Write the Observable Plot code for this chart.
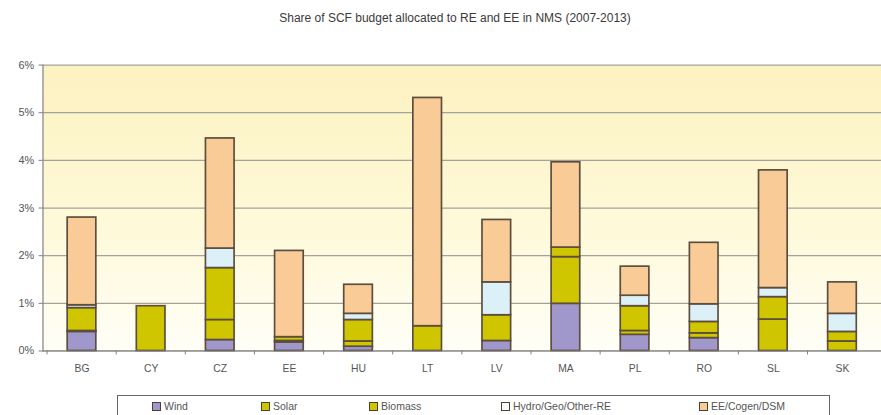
<!DOCTYPE html>
<html>
<head>
<meta charset="utf-8">
<script src="https://cdn.jsdelivr.net/npm/d3@7"></script>
<script src="https://cdn.jsdelivr.net/npm/@observablehq/plot@0.6"></script>
<style>
  body { margin: 0; background: #fff; overflow: hidden; font-family: "Liberation Sans", Arial, sans-serif; }
  #wrap { position: relative; width: 881px; height: 415px; overflow: hidden; }
  #title { position: absolute; top: 11px; left: 455px; transform: translateX(-50%); font-size: 12px; color: #3a3a3a; white-space: nowrap; }
  #chart { position: absolute; top: 30px; left: 0; }
  #legend { position: absolute; top: 395px; left: 117px; width: 713px; height: 28px; border: 1px solid #666; box-sizing: border-box; background: #fff; }
  .item { position: absolute; top: 4px; font-size: 10.5px; color: #555; display: flex; align-items: center; white-space: nowrap; }
  .sw { width: 7px; height: 7px; border: 1px solid #4a4035; margin-right: 3px; }
</style>
</head>
<body>
<div id="wrap">
  <div id="title">Share of SCF budget allocated to RE and EE in NMS (2007-2013)</div>
  <div id="chart"></div>
  <div id="legend"></div>
</div>
<script>
// ---- data (percent of SCF budget) ----
const countries = ["BG","CY","CZ","EE","HU","LT","LV","MA","PL","RO","SL","SK"];
const types = ["Wind","Solar","Biomass","Hydro/Geo/Other-RE","EE/Cogen/DSM"];
const wind    = [0.40, 0,    0.23, 0.18, 0.09, 0,    0.21, 0.99, 0.34, 0.27, 0,    0   ];
const solar   = [0.02, 0.94, 0.42, 0.03, 0.11, 0,    0,    0.98, 0.08, 0.10, 0.66, 0.20];
const biomass = [0.48, 0,    1.09, 0.08, 0.45, 0.52, 0.54, 0.20, 0.52, 0.24, 0.47, 0.20];
const hydro   = [0.06, 0,    0.41, 0,    0.13, 0,    0.69, 0,    0.22, 0.37, 0.19, 0.38];
const eeCogen = [1.84, 0,    2.31, 1.81, 0.61, 4.79, 1.31, 1.79, 0.61, 1.29, 2.47, 0.66];
const yTicks = [0, 1, 2, 3, 4, 5, 6];

// ---- styles ----
const colors = ["#a097ca", "#cfc600", "#cfc600", "#dcf0f8", "#f8cb97"];
const legendSwatch = ["#a097ca", "#cfc600", "#cfc600", "#f4fbfd", "#f8cb97"];
const legendX = [34, 143, 251, 383, 581];

const series = [wind, solar, biomass, hydro, eeCogen];
const rows = [];
types.forEach((t, k) => {
  countries.forEach((c, i) => {
    const v = series[k][i];
    if (v > 0) rows.push({country: c, type: t, value: v});
  });
});

const W = 892, ML = 43, MR = 0;
const step = (W - ML - MR) / countries.length;

const svg = Plot.plot({
  width: W,
  height: 365,
  marginTop: 35,
  marginBottom: 40.5,
  marginLeft: ML,
  marginRight: MR,
  style: {fontFamily: "Liberation Sans, Arial, sans-serif", fontSize: "11px", color: "#555", background: "transparent", overflow: "hidden"},
  x: {domain: countries, paddingInner: 0.59, paddingOuter: 0.295, label: null},
  y: {domain: [0, 6], label: null},
  color: {domain: types, range: colors},
  marks: [
    Plot.frame({fill: "url(#bgGrad)", stroke: null}),
    Plot.gridY(yTicks, {stroke: "#a3a39c", strokeOpacity: 1, strokeWidth: 1.3}),
    Plot.barY(rows, {x: "country", y: "value", fill: "type", stroke: "#5c4d3e", strokeWidth: 1.7, order: types}),
    Plot.ruleY([0], {stroke: "#808080", strokeWidth: 1.2}),
    Plot.frame({anchor: "left", stroke: "#808080", strokeWidth: 1.2}),
    Plot.ruleX(countries, {x: d => d, y1: 0, y2: 0, dx: -step / 2, insetBottom: -4, stroke: "#808080"}),
    Plot.axisY(yTicks, {tickFormat: d => d + "%", tickSize: 4, tickPadding: 5, stroke: "#808080", fill: "#555", fontSize: 11, label: null}),
    Plot.axisX({tickSize: 0, tickPadding: 14, fill: "#555", fontSize: 10.5, label: null})
  ]
});

const defs = document.createElementNS("http://www.w3.org/2000/svg", "defs");
defs.innerHTML = '<linearGradient id="bgGrad" x1="0" y1="0" x2="0" y2="1">' +
  '<stop offset="0" stop-color="#fcf1c0"/><stop offset="0.55" stop-color="#fef9d8"/><stop offset="1" stop-color="#fffef7"/></linearGradient>';
svg.insertBefore(defs, svg.firstChild);
document.getElementById("chart").appendChild(svg);

const legend = document.getElementById("legend");
types.forEach((t, k) => {
  const it = document.createElement("div");
  it.className = "item";
  it.style.left = legendX[k] + "px";
  const sw = document.createElement("span");
  sw.className = "sw";
  sw.style.background = legendSwatch[k];
  it.appendChild(sw);
  it.appendChild(document.createTextNode(t));
  legend.appendChild(it);
});
</script>
</body>
</html>
